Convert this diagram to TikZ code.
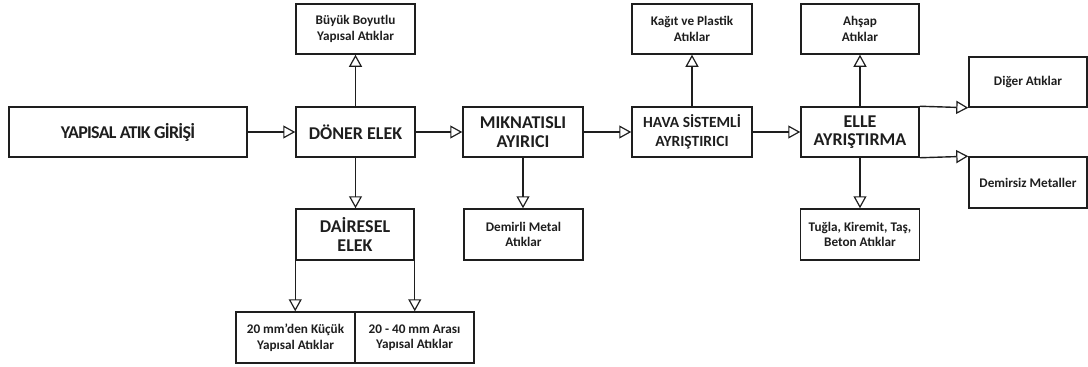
\documentclass[tikz,border=0pt]{standalone}
\usepackage{fontspec}
\setmainfont{Carlito}
\newfontfamily\tightfont[LetterSpace=-4]{Carlito}
\usetikzlibrary{arrows.meta}
\definecolor{ink}{HTML}{1E1E1E}
\tikzset{
  box/.style={draw=ink, line width=1.5pt, inner sep=1pt, align=center, text=ink, font=\bfseries},
  bigbox/.style={box, font=\fontsize{18}{18.5}\selectfont\bfseries},
  smallbox/.style={box, font=\fontsize{13.2}{15.5}\selectfont\bfseries},
  flow/.style={draw=ink, line width=1.4pt, -{Triangle[open, length=12pt, width=13pt, line width=1.2pt]}},
}
\begin{document}
\begin{tikzpicture}[x=1pt,y=-1pt]
\useasboundingbox (0,0) rectangle (1088,367);
% main row
\node[bigbox, minimum width=238pt, minimum height=50pt] (giris) at (128,132) {\tightfont\bfseries YAPISAL ATIK GİRİŞİ};
\node[bigbox, minimum width=119pt, minimum height=50pt] (doner) at (355.5,132) {DÖNER ELEK};
\node[bigbox, minimum width=120pt, minimum height=50pt] (mik) at (523,132) {MIKNATISLI\\AYIRICI};
\node[box, font=\fontsize{15.5}{18.5}\selectfont\bfseries, minimum width=120pt, minimum height=50pt] (hava) at (692,132) {HAVA SİSTEMLİ\\AYRIŞTIRICI};
\node[bigbox, minimum width=118pt, minimum height=50pt] (elle) at (860,132) {ELLE\\AYRIŞTIRMA};
% top row
\node[smallbox, minimum width=119pt, minimum height=50pt] (buyuk) at (355.5,29) {Büyük Boyutlu\\Yapısal Atıklar};
\node[smallbox, minimum width=120pt, minimum height=50pt] (kagit) at (692,29) {Kağıt ve Plastik\\Atıklar};
\node[smallbox, minimum width=118pt, minimum height=50pt] (ahsap) at (860,29) {Ahşap\\Atıklar};
% right column
\node[smallbox, minimum width=118pt, minimum height=50pt] (diger) at (1028,82) {Diğer Atıklar};
\node[smallbox, minimum width=118pt, minimum height=51pt] (demirsiz) at (1028,182.5) {Demirsiz Metaller};
% lower row
\node[bigbox, minimum width=118pt, minimum height=51pt] (dairesel) at (355,234.5) {DAİRESEL\\ELEK};
\node[smallbox, minimum width=119pt, minimum height=51pt] (demirli) at (523.5,234.5) {Demirli Metal\\Atıklar};
\node[smallbox, minimum width=119pt, minimum height=51pt] (tugla) at (860,234.5) {Tuğla, Kiremit, Taş,\\Beton Atıklar};
% bottom row
\node[smallbox, minimum width=119pt, minimum height=51pt] (kucuk) at (295.5,337.5) {20 mm'den Küçük\\Yapısal Atıklar};
\node[smallbox, minimum width=119pt, minimum height=51pt] (arasi) at (414.5,337.5) {20 - 40 mm Arası\\Yapısal Atıklar};
% connectors
\draw[flow] (giris.east) -- (doner.west);
\draw[flow] (doner.east) -- (mik.west);
\draw[flow] (mik.east) -- (hava.west);
\draw[flow] (hava.east) -- (elle.west);
\draw[flow] (doner.north) -- (buyuk.south);
\draw[flow] (hava.north) -- (kagit.south);
\draw[flow] (elle.north) -- (ahsap.south);
\draw[flow] (doner.south) -- (dairesel.north -| doner.south);
\draw[flow] (mik.south) -- (demirli.north -| mik.south);
\draw[flow] (elle.south) -- (tugla.north -| elle.south);
\draw[flow] (elle.north east) -- (diger.south west);
\draw[flow] (elle.south east) -- (demirsiz.north west);
\draw[flow] (dairesel.south west) -- (kucuk.north -| dairesel.south west);
\draw[flow] (dairesel.south east) -- (arasi.north -| dairesel.south east);
\end{tikzpicture}
\end{document}
